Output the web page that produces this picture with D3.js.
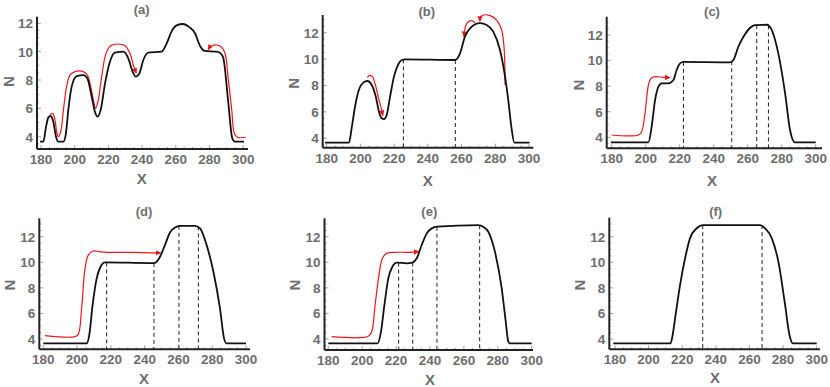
<!DOCTYPE html>
<html>
<head>
<meta charset="utf-8">
<script src="https://cdn.jsdelivr.net/npm/d3@7"></script>
<style>
  body { margin: 0; background: #fff; }
  svg text { font-family: "Liberation Sans", Arial, sans-serif; font-weight: bold; fill: #6e6e6e; }
</style>
</head>
<body>
<svg id="chart" width="830" height="387"></svg>
<script>
// tick values shared by all six panels
var xTicks = [180, 200, 220, 240, 260, 280, 300];
var yTicks = [4, 6, 8, 10, 12];
var panelNames = ['(a)', '(b)', '(c)', '(d)', '(e)', '(f)'];

// (a)
var blackA = [[179.4,3.65],[181.4,3.65],[183.0,4.71],[184.4,5.36],[185.7,5.46],[187.3,5.06],[188.9,4.0],[190.3,3.65],
  [193.3,3.65],[194.8,4.24],[196.2,5.88],[198.2,7.53],[201.2,8.28],[205.1,8.35],[207.5,8.12],[210.1,6.82],[212.0,5.76],
  [213.6,5.41],[215.4,5.88],[218.0,7.76],[220.9,9.29],[223.9,9.93],[228.9,10.0],[231.8,9.53],[234.4,8.59],[236.2,8.24],
  [238.4,8.47],[240.7,9.41],[243.7,9.93],[251.6,10.0],[254.6,10.59],[257.6,11.45],[260.5,11.85],[264.3,11.95],[267.8,11.75],
  [271.4,11.3],[274.4,10.4],[277.3,10.05],[284.3,10.0],[286.6,9.88],[288.2,9.55],[291.2,6.36],[293.5,3.89],[295.1,3.65],[300.5,3.65]];
var redA1 = [[185.3,5.53],[186.9,5.65],[188.3,5.18],[189.3,4.35],[190.3,4.0],[191.7,4.35],[193.3,5.88],[195.2,7.53],
  [197.2,8.35],[200.2,8.59],[205.1,8.59],[207.5,8.35],[209.5,7.53],[211.5,6.35],[212.4,6.0],[214.0,6.59],[216.0,8.24],
  [218.6,9.88],[221.3,10.42],[225.9,10.54],[229.9,10.42],[232.8,9.88],[234.8,9.06],[236.4,8.52]];
var redA2 = [[301.5,3.96],[296.5,3.96],[294.7,4.24],[293.2,5.88],[291.2,8.0],[289.2,9.89],[287.2,10.31],[284.3,10.47],
  [281.5,10.42],[280.3,10.33],[279.3,10.17]];

// (b)
var blackB = [[179.0,3.67],[193.2,3.67],[194.8,4.76],[196.8,6.4],[199.2,7.71],[201.7,8.22],[204.1,8.34],[206.7,8.04],
  [209.1,7.16],[211.0,6.02],[212.6,5.52],[214.0,5.46],[215.6,5.77],[217.6,7.16],[219.9,8.67],[222.5,9.61],[224.5,9.93],
  [226.5,9.98],[256.1,9.93],[259.1,10.44],[262.0,11.7],[265.0,12.33],[270.9,12.72],[274.9,12.58],[278.8,12.08],
  [282.8,10.69],[285.8,8.67],[287.7,6.9],[289.5,4.9],[291.3,3.67],[300.3,3.67]];
var redB1 = [[204.1,8.62],[205.5,8.77],[207.1,8.67],[208.9,8.04],[210.6,7.11],[212.2,6.35],[213.2,5.77]];
var redB2 = [[268.0,12.76],[266.0,12.91],[264.0,12.83],[262.6,12.58],[261.9,12.2],[261.4,11.75]];
var redB3 = [[285.8,8.04],[285.3,10.69],[283.8,12.2],[280.8,12.96],[276.9,13.29],[272.9,13.34],[271.3,13.2],[270.9,12.91]];
var dashB = [[225.5,9.98],[256.3,9.93]];

// (c)
var blackC = [[179.5,3.61],[201.6,3.61],[203.5,4.83],[205.5,6.9],[207.5,7.96],[209.4,8.22],[213.3,8.22],[216.3,8.48],
  [218.2,9.26],[220.2,9.78],[222.2,9.9],[249.6,9.86],[251.6,10.04],[254.5,11.08],[257.5,11.86],[261.4,12.57],[264.3,12.78],
  [271.2,12.8],[274.1,12.4],[278.0,10.56],[282.0,7.44],[284.9,4.57],[287.8,3.6],[300.0,3.6]];
var redC = [[180.0,4.18],[195.7,4.18],[197.6,4.44],[199.6,5.88],[201.6,8.09],[203.1,8.61],[205.5,8.74],[210.4,8.69],[213.9,8.66]];
var dashC = [[222.2,9.9],[250.6,9.95],[265.3,12.78],[272.2,12.75]];

// (d)
var blackD = [[180.0,3.66],[205.7,3.66],[207.2,4.31],[209.2,6.66],[211.6,8.74],[213.9,9.65],[216.5,9.99],[243.2,9.94],
  [246.1,9.96],[249.1,10.43],[252.0,11.34],[255.0,12.33],[258.0,12.72],[260.9,12.85],[269.8,12.85],[272.8,12.65],
  [276.7,11.34],[280.7,9.26],[284.6,6.4],[287.0,4.05],[288.5,3.66],[300.0,3.66]];
var redD = [[181.0,4.26],[198.7,4.18],[200.7,4.36],[202.7,6.4],[204.7,9.52],[206.6,10.56],[209.6,10.88],[213.6,10.82],
  [223.4,10.77],[233.3,10.77],[243.2,10.74],[249.1,10.74]];
var dashD = [[217.5,9.99],[245.5,9.95],[260.3,12.85],[271.8,12.8]];

// (e)
var blackE = [[180.0,3.66],[209.1,3.66],[211.1,4.57],[213.1,6.66],[215.4,8.74],[217.8,9.65],[220.4,9.97],[226.3,9.92],
  [229.6,9.97],[232.2,10.31],[235.1,11.35],[238.1,12.26],[241.0,12.65],[244.3,12.78],[268.5,12.91],[271.4,12.78],
  [274.4,12.39],[278.3,10.83],[282.3,7.96],[284.7,5.35],[286.2,3.79],[287.2,3.66],[300.0,3.66]];
var redE = [[182.0,4.18],[203.6,4.21],[205.6,4.57],[207.6,6.66],[209.9,9.0],[211.9,10.31],[214.5,10.7],[219.4,10.78],
  [227.2,10.78],[233.1,10.83]];
var dashE = [[221.5,9.97],[229.8,9.97],[244.1,12.78],[269.3,12.9]];

// (f)
var blackF = [[179.0,3.66],[213.1,3.66],[214.3,4.31],[216.3,6.13],[218.7,8.22],[221.7,10.31],[224.6,11.87],[228.6,12.66],
  [232.2,12.91],[266.3,12.91],[269.3,12.66],[273.3,11.87],[277.2,10.05],[281.2,6.66],[283.8,4.31],[285.8,3.66],[300.0,3.66]];
var dashF = [[232.2,12.91],[267.5,12.91]];

// pixel layout of each panel
var layout = [
  {left: 37, bottom: 149, x0: 41, x1: 243.2, right: 248, y4: 136.7, y12: 23.3, top: 16.7, tx: 141.7, ty: 14, lx: 141.7, ly: 184, nx: 8.3, ny: 81.7},
  {left: 322.7, bottom: 147.7, x0: 326.7, x1: 529, right: 533.3, y4: 138.3, y12: 32.7, top: 15, tx: 426.7, ty: 16, lx: 427.7, ly: 186, nx: 293.3, ny: 83.3},
  {left: 606.7, bottom: 148.3, x0: 611.7, x1: 815.7, right: 822, y4: 137.3, y12: 35, top: 16.7, tx: 712, ty: 16, lx: 712, ly: 186, nx: 578.3, ny: 85},
  {left: 39.3, bottom: 349.3, x0: 43.3, x1: 246, right: 250, y4: 339, y12: 236.7, top: 218.3, tx: 144, ty: 216, lx: 144, ly: 384, nx: 10, ny: 285},
  {left: 324.5, bottom: 350, x0: 328.3, x1: 531.7, right: 533, y4: 339, y12: 236.7, top: 218.3, tx: 429.3, ty: 216, lx: 430, ly: 385, nx: 295, ny: 285},
  {left: 609.3, bottom: 349.3, x0: 615, x1: 816.7, right: 820, y4: 339, y12: 236.7, top: 217.7, tx: 715.7, ty: 216, lx: 715, ly: 383, nx: 580, ny: 285}
];

var panels = [
  {black: blackA, red: [redA1, redA2], dash: []},
  {black: blackB, red: [redB1, redB2, redB3], dash: dashB},
  {black: blackC, red: [redC], dash: dashC},
  {black: blackD, red: [redD], dash: dashD},
  {black: blackE, red: [redE], dash: dashE},
  {black: blackF, red: [], dash: dashF}
];

var svg = d3.select('#chart');

svg.append('defs').append('marker')
  .attr('id', 'head')
  .attr('viewBox', '0 -4 8 8')
  .attr('markerUnits', 'userSpaceOnUse')
  .attr('markerWidth', 6).attr('markerHeight', 6)
  .attr('refX', 6).attr('refY', 0)
  .attr('orient', 'auto')
  .append('path').attr('d', 'M0,-3.5L8,0L0,3.5Z').attr('fill', '#e8141a');

function drawPanel(p, L, i) {
  var x = d3.scaleLinear().domain([180, 300]).range([L.x0, L.x1]);
  var y = d3.scaleLinear().domain([4, 12]).range([L.y4, L.y12]);
  var g = svg.append('g').attr('class', 'panel' + i);

  // minor ticks
  var xMinor = d3.range(180, 301, 5);
  g.selectAll('.xmin').data(xMinor).enter().append('line')
    .attr('x1', function(d) { return x(d); }).attr('x2', function(d) { return x(d); })
    .attr('y1', L.bottom).attr('y2', function(d) { return L.bottom - (d % 20 == 0 ? 4 : 2); })
    .attr('stroke', '#888').attr('stroke-width', 0.8);
  var yMinor = d3.range(3.5, y.invert(L.top) + 0.01, 0.5);
  g.selectAll('.ymin').data(yMinor).enter().append('line')
    .attr('y1', function(d) { return y(d); }).attr('y2', function(d) { return y(d); })
    .attr('x1', L.left).attr('x2', function(d) { return L.left + (d % 2 == 0 ? 4 : 2); })
    .attr('stroke', '#888').attr('stroke-width', 0.8);

  // axis lines
  g.append('line').attr('x1', L.left).attr('x2', L.right).attr('y1', L.bottom).attr('y2', L.bottom)
    .attr('stroke', '#222').attr('stroke-width', 2);
  g.append('line').attr('x1', L.left).attr('x2', L.left).attr('y1', L.bottom).attr('y2', L.top)
    .attr('stroke', '#222').attr('stroke-width', 2);

  g.selectAll('.xl').data(xTicks).enter().append('text')
    .attr('x', function(d) { return x(d); }).attr('y', L.bottom + 15)
    .attr('text-anchor', 'middle').style('font-size', '13.5px')
    .text(function(d) { return d; });
  g.selectAll('.yl').data(yTicks).enter().append('text')
    .attr('x', L.left - 4).attr('y', function(d) { return y(d); })
    .attr('dy', '0.36em').attr('text-anchor', 'end').style('font-size', '13.5px')
    .text(function(d) { return d; });

  g.append('text').attr('x', L.tx).attr('y', L.ty).attr('text-anchor', 'middle')
    .style('font-size', '13px').text(panelNames[i]);
  g.append('text').attr('x', L.lx).attr('y', L.ly).attr('text-anchor', 'middle')
    .style('font-size', '15px').text('X');
  g.append('text').attr('transform', 'translate(' + L.nx + ',' + L.ny + ') rotate(-90)')
    .attr('dy', '0.36em').attr('text-anchor', 'middle')
    .style('font-size', '15px').text('N');

  // dashed markers down to the axis
  g.selectAll('.dash').data(p.dash).enter().append('line')
    .attr('x1', function(d) { return x(d[0]); }).attr('x2', function(d) { return x(d[0]); })
    .attr('y1', function(d) { return y(d[1]); }).attr('y2', L.bottom)
    .attr('stroke', '#222').attr('stroke-width', 1).attr('stroke-dasharray', '4,3');

  var redLine = d3.line().x(function(d) { return x(d[0]); }).y(function(d) { return y(d[1]); })
    .curve(d3.curveCatmullRom.alpha(0.5));
  p.red.forEach(function(r) {
    g.append('path').attr('d', redLine(r)).attr('fill', 'none')
      .attr('stroke', '#f0141c').attr('stroke-width', 1.2)
      .attr('marker-end', 'url(#head)');
  });

  var blackLine = d3.line().x(function(d) { return x(d[0]); }).y(function(d) { return y(d[1]); })
    .curve(d3.curveMonotoneX);
  g.append('path').attr('d', blackLine(p.black)).attr('fill', 'none')
    .attr('stroke', '#111').attr('stroke-width', 1.8);
}

for (var i = 0; i < panels.length; i++) {
  drawPanel(panels[i], layout[i], i);
}
</script>
</body>
</html>
